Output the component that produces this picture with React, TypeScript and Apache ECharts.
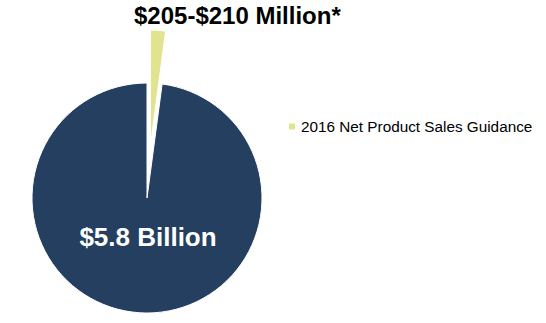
import React, { useEffect, useRef } from "react";
import * as echarts from "echarts";

// Data (shares of the pie, in %)
const sliceNames: string[] = ["2016 Net Product Sales Guidance", "Total"];
const sliceValues: number[] = [2.1, 97.9];
const sliceLabels: string[] = ["$205-$210 Million*", "$5.8 Billion"];
const legendItems: string[] = ["2016 Net Product Sales Guidance"];

const COLORS = ["#e1e48e", "#243f60"];
const FONT = '"Liberation Sans", Arial, sans-serif';

export default function App() {
  const ref = useRef<HTMLDivElement>(null);

  useEffect(() => {
    if (!ref.current) return;
    const chart = echarts.init(ref.current, null, { renderer: "svg" });
    chart.setOption({
      animation: false,
      backgroundColor: "#ffffff",
      title: {
        text: sliceLabels[0],
        left: 134,
        top: 3,
        padding: 0,
        textStyle: { fontSize: 24, fontWeight: "bold", color: "#000", fontFamily: FONT },
      },
      legend: {
        data: legendItems,
        left: 287,
        top: 119,
        padding: 0,
        icon: "rect",
        itemWidth: 8,
        itemHeight: 8,
        itemGap: 10,
        selectedMode: false,
        textStyle: { fontSize: 15.3, color: "#000", fontFamily: FONT },
      },
      series: [
        {
          type: "pie",
          center: [147, 198],
          radius: 115,
          startAngle: 90,
          clockwise: true,
          selectedMode: "single",
          selectedOffset: 53,
          avoidLabelOverlap: false,
          emphasis: { disabled: true },
          itemStyle: { borderColor: "#ffffff", borderWidth: 1 },
          labelLine: { show: false },
          labelLayout: (params: any) =>
            params.dataIndex === 1
              ? { x: 148, y: 237, align: "center", verticalAlign: "middle" }
              : {},
          data: sliceValues.map((v, i) => ({
            name: sliceNames[i],
            value: v,
            selected: i === 0,
            itemStyle: { color: COLORS[i] },
            label: {
              show: i === 1,
              position: "inside",
              formatter: sliceLabels[i],
              color: "#ffffff",
              fontWeight: "bold",
              fontSize: 26,
              fontFamily: FONT,
            },
          })),
        },
      ],
    });
    return () => chart.dispose();
  }, []);

  return (
    <div
      ref={ref}
      style={{ position: "absolute", left: 0, top: 0, width: 546, height: 323 }}
    />
  );
}
